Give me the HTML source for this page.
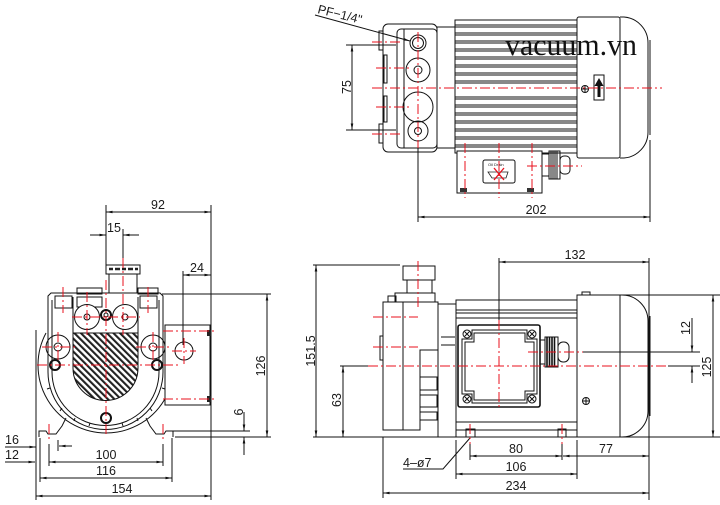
<!DOCTYPE html>
<html><head><meta charset="utf-8"><style>
html,body{margin:0;padding:0;background:#fff;}
svg{display:block}
text{font-family:"Liberation Sans",sans-serif;font-size:12.5px;fill:#1a1a1a}
</style></head><body>
<svg width="720" height="505" viewBox="0 0 720 505" xmlns="http://www.w3.org/2000/svg">
<defs>
<marker id="a" viewBox="0 0 10 4" refX="10" refY="2" markerWidth="7" markerHeight="2.6" markerUnits="userSpaceOnUse" orient="auto-start-reverse"><path d="M0 0L10 2L0 4Z" fill="#111"/></marker>
<pattern id="h" patternUnits="userSpaceOnUse" width="4.6" height="4.6" patternTransform="rotate(-45)"><rect x="0" y="0" width="2.1" height="4.6" fill="#222"/></pattern>
</defs>

<!-- ================= TOP VIEW ================= -->
<g fill="none" stroke="#111" stroke-width="1">
<rect x="383" y="24" width="54" height="128" rx="5"/>
<rect x="397" y="29" width="40" height="119" rx="4"/>
<line x1="404" y1="29" x2="404" y2="148"/>
<rect x="379" y="31" width="4" height="19"/>
<rect x="379" y="124" width="4" height="19"/>
<rect x="384" y="55" width="3" height="28"/>
<rect x="384" y="96" width="3" height="26"/>
<circle cx="418" cy="43" r="8"/><circle cx="418" cy="43" r="5.5"/>
<circle cx="418" cy="70" r="12"/><circle cx="418" cy="70" r="4"/>
<circle cx="418" cy="107" r="15"/>
<circle cx="418" cy="131" r="10"/><circle cx="418" cy="131" r="3.5"/>
<rect x="437" y="27" width="18" height="121"/>
<rect x="455" y="20" width="122" height="133"/>
<path d="M455 25H577M455 27H577M455 33H577M455 35H577M455 41H577M455 43H577M455 49H577M455 51H577M455 57H577M455 59H577M455 65H577M455 67H577M455 73H577M455 75H577M455 81H577M455 83H577M455 97H577M455 99H577M455 105H577M455 107H577M455 113H577M455 115H577M455 121H577M455 123H577M455 129H577M455 131H577M455 137H577M455 139H577M455 145H577M455 147H577"/>
<rect x="577" y="17" width="43" height="141" rx="2" fill="#fff"/>
<path d="M620 17H624A26 26 0 0 1 648 43V132A26 26 0 0 1 624 158H620"/>
<line x1="650" y1="40" x2="650" y2="135"/>
<rect x="594" y="75" width="10" height="25"/>
<circle cx="585" cy="89" r="3.5"/><path d="M581.5 89H588.5M585 85.5V92.5"/>
<rect x="457" y="151" width="85" height="42" fill="#fff"/>
<rect x="483" y="160" width="32" height="23" rx="2"/>
<rect x="542" y="154" width="7" height="22"/>
<rect x="549" y="151" width="11" height="28"/>
<path d="M551 151V179M553 151V179M555 151V179M557 151V179"/>
<rect x="560" y="156" width="10" height="18" rx="4"/>
<!-- dims top -->
<line x1="352" y1="45" x2="352" y2="130" marker-start="url(#a)" marker-end="url(#a)"/>
<line x1="346" y1="45" x2="396" y2="45"/>
<line x1="346" y1="130" x2="396" y2="130"/>
<line x1="418" y1="148" x2="418" y2="222"/>
<line x1="650" y1="140" x2="650" y2="222"/>
<line x1="418" y1="217" x2="650" y2="217" marker-start="url(#a)" marker-end="url(#a)"/>
<line x1="315" y1="15" x2="410" y2="41" marker-end="url(#a)"/>
</g>
<path d="M599 78L603.5 86H600.5V97H597.5V86H594.5Z" fill="#111"/>
<rect x="460" y="188" width="7" height="4" fill="#333"/>
<rect x="527" y="188" width="7" height="4" fill="#333"/>
<text x="488" y="166" style="font-size:4px">Oil Drain</text>
<path d="M488 172H508L506 178H492Z" fill="none" stroke="#222" stroke-width="0.8"/>
<path d="M494 168L504 180M504 168L494 180" stroke="#e8101c" stroke-width="1.3"/>
<g fill="none" stroke="#e8101c" stroke-width="1" stroke-dasharray="10 3 2 3">
<line x1="372" y1="88" x2="662" y2="88"/>
<line x1="372" y1="42" x2="402" y2="42"/>
<line x1="376" y1="68" x2="412" y2="68"/>
<line x1="376" y1="107" x2="412" y2="107"/>
<line x1="372" y1="134" x2="402" y2="134"/>
<line x1="418" y1="32" x2="418" y2="148"/>
<line x1="465" y1="143" x2="465" y2="198"/>
<line x1="499" y1="143" x2="499" y2="198"/>
<line x1="532" y1="143" x2="532" y2="198"/>
<line x1="527" y1="166" x2="582" y2="166"/>
</g>
<text x="505" y="55" textLength="132" lengthAdjust="spacingAndGlyphs" style="font-family:'Liberation Serif',serif;font-size:31px;fill:#111">vacuum.vn</text>
<text transform="translate(317,13) rotate(14)" style="font-size:12.5px">PF−1/4"</text>
<text transform="translate(351,87) rotate(-90)" text-anchor="middle">75</text>
<text x="536" y="214" text-anchor="middle">202</text>

<!-- ================= FRONT VIEW ================= -->
<g fill="none" stroke="#111" stroke-width="1">
<path d="M46 333A68 68 0 1 0 166 333"/>
<path d="M48 296L51 293H160L163 296V372A57.5 57.5 0 0 1 48 372Z" fill="#fff"/>
<path d="M52 300V372A53.5 53.5 0 0 0 159 372V300"/>
<path d="M39 437V431H46L48 434H56L62 426L66 418"/>
<path d="M173 437V431H166L164 434H156L150 426L146 418"/>
<rect x="106" y="265" width="34" height="9"/>
<rect x="109" y="274" width="28" height="19"/>
<rect x="77" y="288" width="25" height="6"/>
<rect x="138" y="288" width="20" height="6"/>
<rect x="55" y="296" width="17" height="12"/>
<rect x="140" y="296" width="17" height="12"/>
<rect x="77" y="297" width="25" height="10"/>
<line x1="73" y1="297" x2="73" y2="333"/>
<line x1="138" y1="297" x2="138" y2="333"/>
<path d="M73 333H138V368A32.5 32.5 0 0 1 73 368Z" fill="url(#h)"/>
<circle cx="87" cy="317" r="12.5" fill="#fff"/><circle cx="87" cy="317" r="3"/>
<circle cx="125" cy="317" r="12.5" fill="#fff"/><circle cx="125" cy="317" r="3"/>
<circle cx="106" cy="315" r="5" stroke-width="2"/><circle cx="106" cy="315" r="2"/>
<circle cx="58" cy="347" r="12"/><circle cx="58" cy="347" r="4"/>
<circle cx="153" cy="347" r="12"/><circle cx="153" cy="347" r="4"/>
<circle cx="55" cy="365" r="5" stroke-width="2"/>
<circle cx="157" cy="365" r="5" stroke-width="2"/>
<circle cx="106" cy="418" r="5" stroke-width="2"/>
<path d="M62 408L60 411M75 418L74 421M90 423L89 426M106 425V428M122 423L123 426M137 418L138 421M150 408L152 411M50 388L47 389M162 388L165 389"/>
<rect x="165" y="325" width="45" height="80" fill="#fff"/>
<circle cx="184" cy="351" r="9"/>
<!-- dims front -->
<line x1="106" y1="205" x2="106" y2="266"/>
<line x1="211" y1="205" x2="211" y2="500"/>
<line x1="106" y1="212" x2="211" y2="212" marker-start="url(#a)" marker-end="url(#a)"/>
<line x1="123" y1="229" x2="123" y2="262"/>
<line x1="90" y1="235" x2="106" y2="235" marker-end="url(#a)"/>
<line x1="139" y1="235" x2="123" y2="235" marker-end="url(#a)"/>
<line x1="183" y1="271" x2="183" y2="345"/>
<line x1="183" y1="275" x2="211" y2="275" marker-start="url(#a)" marker-end="url(#a)"/>
<line x1="162" y1="294" x2="271" y2="294"/>
<line x1="175" y1="437" x2="271" y2="437"/>
<line x1="267" y1="294" x2="267" y2="437" marker-start="url(#a)" marker-end="url(#a)"/>
<line x1="172" y1="431" x2="250" y2="431"/>
<line x1="244" y1="412" x2="244" y2="431" marker-end="url(#a)"/>
<line x1="244" y1="455" x2="244" y2="437" marker-end="url(#a)"/>
<line x1="36" y1="330" x2="36" y2="500"/>
<line x1="40" y1="438" x2="40" y2="482"/>
<line x1="49" y1="444" x2="49" y2="466"/>
<line x1="163" y1="444" x2="163" y2="466"/>
<line x1="172" y1="438" x2="172" y2="482"/>
<line x1="49" y1="462" x2="163" y2="462" marker-start="url(#a)" marker-end="url(#a)"/>
<line x1="40" y1="478" x2="172" y2="478" marker-start="url(#a)" marker-end="url(#a)"/>
<line x1="36" y1="496" x2="211" y2="496" marker-start="url(#a)" marker-end="url(#a)"/>
<line x1="5" y1="447" x2="36" y2="447" marker-end="url(#a)"/>
<line x1="5" y1="462" x2="35" y2="462" marker-end="url(#a)"/>
<line x1="58" y1="440" x2="58" y2="451"/>
<line x1="72" y1="446" x2="59" y2="446" marker-end="url(#a)"/>
</g>
<path d="M109 269h4M115 269h5M122 269h4M128 269h5M135 269h3" stroke="#222" stroke-width="2.5"/>
<rect x="207" y="330" width="4" height="6" fill="#222"/>
<rect x="207" y="396" width="4" height="6" fill="#222"/>
<g fill="none" stroke="#e8101c" stroke-width="1" stroke-dasharray="10 3 2 3">
<line x1="106" y1="280" x2="106" y2="437"/>
<line x1="123" y1="258" x2="123" y2="335"/>
<line x1="87" y1="292" x2="87" y2="335"/>
<line x1="63" y1="287" x2="63" y2="313"/>
<line x1="148" y1="287" x2="148" y2="313"/>
<line x1="58" y1="332" x2="58" y2="362"/>
<line x1="153" y1="332" x2="153" y2="362"/>
<line x1="72" y1="317" x2="140" y2="317"/>
<line x1="42" y1="347" x2="75" y2="347"/>
<line x1="136" y1="347" x2="170" y2="347"/>
<line x1="37" y1="365" x2="178" y2="365"/>
<line x1="163" y1="331" x2="215" y2="331"/>
<line x1="163" y1="399" x2="215" y2="399"/>
<line x1="184" y1="338" x2="184" y2="364"/>
<line x1="172" y1="351" x2="196" y2="351"/>
<line x1="49" y1="424" x2="49" y2="442"/>
<line x1="163" y1="424" x2="163" y2="442"/>
</g>
<text x="158" y="209" text-anchor="middle">92</text>
<text x="114" y="232" text-anchor="middle">15</text>
<text x="197" y="272" text-anchor="middle">24</text>
<text transform="translate(265,366) rotate(-90)" text-anchor="middle">126</text>
<text transform="translate(243,412) rotate(-90)" text-anchor="middle">6</text>
<text x="5" y="444">16</text>
<text x="5" y="459">12</text>
<text x="106" y="459" text-anchor="middle">100</text>
<text x="106" y="475" text-anchor="middle">116</text>
<text x="122" y="493" text-anchor="middle">154</text>

<!-- ================= SIDE VIEW ================= -->
<g fill="none" stroke="#111" stroke-width="1">
<line x1="313" y1="437" x2="720" y2="437"/>
<line x1="313" y1="265" x2="400" y2="265"/>
<line x1="316" y1="265" x2="316" y2="437" marker-start="url(#a)" marker-end="url(#a)"/>
<line x1="340" y1="366" x2="368" y2="366"/>
<line x1="343" y1="366" x2="343" y2="437" marker-start="url(#a)" marker-end="url(#a)"/>
<rect x="403" y="266" width="32" height="14"/>
<rect x="407" y="280" width="25" height="13"/>
<rect x="395" y="293" width="40" height="9"/>
<rect x="388" y="296" width="8" height="6"/>
<rect x="383" y="302" width="20" height="128"/>
<rect x="380" y="336" width="3" height="24"/>
<path d="M403 302H438V350H420V430H403"/>
<rect x="420" y="377" width="17" height="13"/>
<rect x="420" y="395" width="17" height="12"/>
<rect x="420" y="412" width="17" height="8"/>
<rect x="438" y="304" width="18" height="133"/>
<path d="M441 337H455M441 345H455"/>
<rect x="456" y="300" width="121" height="137"/>
<path d="M456 310H577M456 313H577M456 318H577M456 422H577M456 430H577"/>
<rect x="466" y="429" width="9" height="8"/>
<rect x="558" y="429" width="8" height="8"/>
<rect x="458" y="325" width="82" height="82" rx="2" stroke-width="1.6" fill="#fff"/>
<path d="M472 330H527V339H537V394H527V403H472V394H462V339H472Z"/>
<path d="M474 333H525V342H534V391H525V400H474V391H465V342H474Z"/>
<circle cx="467" cy="334" r="4"/><path d="M464.5 331.5L469.5 336.5M469.5 331.5L464.5 336.5"/>
<circle cx="532" cy="334" r="4"/><path d="M529.5 331.5L534.5 336.5M534.5 331.5L529.5 336.5"/>
<circle cx="467" cy="399" r="4"/><path d="M464.5 396.5L469.5 401.5M469.5 396.5L464.5 401.5"/>
<circle cx="532" cy="399" r="4"/><path d="M529.5 396.5L534.5 401.5M534.5 396.5L529.5 401.5"/>
<rect x="540" y="340" width="5" height="24"/>
<rect x="545" y="337" width="13" height="30"/>
<path d="M547 337V367M549.5 337V367M552 337V367M554.5 337V367" stroke-width="1.6"/>
<rect x="558" y="342" width="11" height="20" rx="5"/>
<rect x="577" y="295" width="43" height="142"/>
<path d="M620 295H622A26 26 0 0 1 648 321V411A26 26 0 0 1 622 437H620"/>
<line x1="650" y1="316" x2="650" y2="416"/>
<path d="M582 295V292H590V295"/>
<circle cx="586" cy="401" r="3.5"/><path d="M582.5 401H589.5M586 397.5V404.5"/>
<!-- dims side -->
<line x1="499" y1="258" x2="499" y2="322"/>
<line x1="649" y1="258" x2="649" y2="500"/>
<line x1="499" y1="262" x2="649" y2="262" marker-start="url(#a)" marker-end="url(#a)"/>
<line x1="620" y1="295" x2="720" y2="295"/>
<line x1="713" y1="295" x2="713" y2="437" marker-start="url(#a)" marker-end="url(#a)"/>
<line x1="583" y1="352" x2="700" y2="352"/>
<line x1="668" y1="366" x2="700" y2="366"/>
<line x1="692" y1="318" x2="692" y2="352" marker-end="url(#a)"/>
<line x1="692" y1="383" x2="692" y2="366" marker-end="url(#a)"/>
<line x1="383" y1="437" x2="383" y2="498"/>
<line x1="456" y1="440" x2="456" y2="479"/>
<line x1="577" y1="440" x2="577" y2="479"/>
<line x1="470" y1="444" x2="470" y2="460"/>
<line x1="562" y1="444" x2="562" y2="460"/>
<line x1="470" y1="456" x2="562" y2="456" marker-start="url(#a)" marker-end="url(#a)"/>
<line x1="563" y1="456" x2="649" y2="456" marker-start="url(#a)" marker-end="url(#a)"/>
<line x1="456" y1="474" x2="577" y2="474" marker-start="url(#a)" marker-end="url(#a)"/>
<line x1="383" y1="493" x2="649" y2="493" marker-start="url(#a)" marker-end="url(#a)"/>
<path d="M403 469H443L470 438"/>
</g>
<g fill="none" stroke="#e8101c" stroke-width="1" stroke-dasharray="10 3 2 3">
<line x1="368" y1="366" x2="668" y2="366"/>
<line x1="528" y1="352" x2="583" y2="352"/>
<line x1="373" y1="317" x2="418" y2="317"/>
<line x1="373" y1="347" x2="418" y2="347"/>
<line x1="418" y1="261" x2="418" y2="307"/>
<line x1="499" y1="320" x2="499" y2="410"/>
<line x1="470" y1="424" x2="470" y2="444"/>
<line x1="562" y1="424" x2="562" y2="444"/>
</g>
<text transform="translate(315,351) rotate(-90)" text-anchor="middle">151.5</text>
<text transform="translate(341,400) rotate(-90)" text-anchor="middle">63</text>
<text x="575" y="259" text-anchor="middle">132</text>
<text transform="translate(711,367) rotate(-90)" text-anchor="middle">125</text>
<text transform="translate(690,328) rotate(-90)" text-anchor="middle">12</text>
<text x="516" y="453" text-anchor="middle">80</text>
<text x="606" y="453" text-anchor="middle">77</text>
<text x="516" y="471" text-anchor="middle">106</text>
<text x="516" y="490" text-anchor="middle">234</text>
<text x="403" y="467">4–ø7</text>
</svg>
</body></html>
